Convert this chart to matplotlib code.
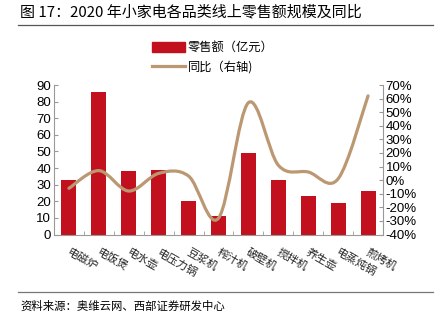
import numpy as np
import matplotlib
matplotlib.use("Agg")
import matplotlib.pyplot as plt
from matplotlib.path import Path
from matplotlib.patches import PathPatch
from matplotlib.lines import Line2D
from matplotlib.patches import Patch
from matplotlib.ticker import FixedLocator

plt.rcParams["font.family"] = ["Liberation Sans", "Noto Sans CJK SC", "DejaVu Sans"]

categories = ["电磁炉", "电饭煲", "电水壶", "电压力锅", "豆浆机", "榨汁机",
              "破壁机", "搅拌机", "养生壶", "电蒸炖锅", "煎烤机"]
sales = [33, 86, 38, 39, 20, 11, 49, 33, 23, 19, 26]        # 亿元
yoy = [-6, 7, -8, 5, 3, -28, 57, 11, 6, 1, 62]              # %

c_bar = "#c3101f"
c_line = "#bc9872"
c_spine = "#999999"
cjk = ["Noto Sans CJK SC", "DejaVu Sans"]

fig = plt.figure(figsize=(4.43, 3.25), dpi=100)
ax = fig.add_axes([54 / 443, 1 - 234.5 / 325, 329 / 443, 149.5 / 325])
ax2 = ax.twinx()

x = np.arange(len(categories))
ax.bar(x, sales, 0.5, color=c_bar, zorder=2)
ax.set_xlim(-0.5, len(categories) - 0.5)
ax.set_ylim(0, 90)
ax.set_yticks(range(0, 91, 10))

# smoothed line (Catmull-Rom as cubic Bezier, like a smoothed office chart)
pts = np.column_stack([x, yoy]).astype(float)
ext = np.vstack([pts[0], pts, pts[-1]])
verts = [tuple(pts[0])]
codes = [Path.MOVETO]
for i in range(1, len(ext) - 2):
    p0, p1, p2, p3 = ext[i - 1], ext[i], ext[i + 1], ext[i + 2]
    verts += [tuple(p1 + (p2 - p0) / 6), tuple(p2 - (p3 - p1) / 6), tuple(p2)]
    codes += [Path.CURVE4] * 3
ax2.add_patch(PathPatch(Path(verts, codes), fill=False, edgecolor=c_line,
                        lw=2.3, capstyle="round", zorder=3))
ax2.set_ylim(-40, 70)
ax2.set_yticks(range(-40, 71, 10))
ax2.set_yticklabels([f"{v}%" for v in range(-40, 71, 10)])

ax.set_zorder(ax2.get_zorder() - 1)
ax.patch.set_visible(True)
ax2.patch.set_visible(False)

for a in (ax, ax2):
    a.spines["top"].set_visible(False)
    for s in ("left", "right", "bottom"):
        a.spines[s].set_color(c_spine)
        a.spines[s].set_linewidth(0.8)
    a.tick_params(axis="y", direction="in", length=3, color=c_spine,
                  labelsize=9.5, pad=2)
ax.spines["right"].set_visible(False)
ax2.spines["left"].set_visible(False)
ax2.spines["bottom"].set_visible(False)

ax.set_xticks(x)
ax.set_xticklabels([])
ax.tick_params(axis="x", which="major", length=0)
ax.xaxis.set_minor_locator(FixedLocator(np.arange(0.5, len(categories) - 1, 1)))
ax.tick_params(axis="x", which="minor", direction="in", length=3, color=c_spine)
for xi, name in zip(x, categories):
    ax.annotate(name, xy=(xi, 0), xytext=(1, -9), textcoords="offset points",
                rotation=-30, rotation_mode="anchor", ha="left", va="top",
                fontsize=8, family=cjk, color="#222222")

handles = [Patch(color=c_bar), Line2D([], [], color=c_line, lw=2.3)]
fig.legend(handles, ["零售额（亿元）", "同比（右轴)"], loc="center",
           bbox_to_anchor=(213 / 443, 1 - 57.5 / 325), frameon=False,
           prop={"family": cjk, "size": 8.8}, handlelength=2.7, handleheight=0.9,
           labelspacing=0.55, handletextpad=0.2)

fig.text(20 / 443, 1 - 12 / 325, "图 17：2020 年小家电各品类线上零售额规模及同比",
         fontsize=10.8, va="center", ha="left", family=cjk)
fig.add_artist(Line2D([18 / 443, 433 / 443], [1 - 25 / 325] * 2, color="#555555", lw=0.9))
fig.add_artist(Line2D([18 / 443, 433 / 443], [1 - 292 / 325] * 2, color="#777777", lw=0.9))
fig.text(20 / 443, 1 - 306 / 325, "资料来源：奥维云网、西部证券研发中心",
         fontsize=8.2, va="center", ha="left", family=cjk)

fig.savefig("out.png", dpi=100)
